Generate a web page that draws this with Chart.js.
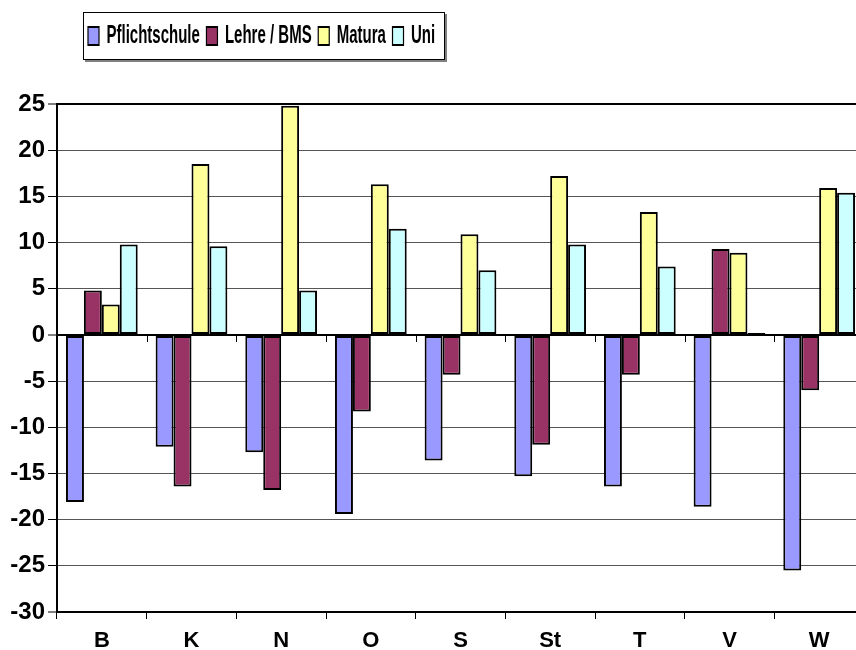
<!DOCTYPE html>
<html>
<head>
<meta charset="utf-8">
<script src="https://cdn.jsdelivr.net/npm/chart.js@4"></script>
<style>
  html, body { margin: 0; padding: 0; background: #fff; overflow: hidden; }
</style>
</head>
<body>
<canvas id="chart1" width="864" height="650"></canvas>
<script>
// data
const categories = ["B", "K", "N", "O", "S", "St", "T", "V", "W"];
const pflichtschule = [-18.1, -12.1, -12.7, -19.4, -13.6, -15.3, -16.4, -18.6, -25.5];
const lehreBms = [4.8, -16.4, -16.8, -8.3, -4.3, -11.9, -4.3, 9.3, -6.0];
const matura = [3.3, 18.5, 24.8, 16.3, 10.9, 17.2, 13.3, 8.9, 15.9];
const uni = [9.8, 9.6, 4.8, 11.5, 7.0, 9.8, 7.4, 0.2, 15.4];
const seriesNames = ["Pflichtschule", "Lehre / BMS", "Matura", "Uni"];
const seriesColors = ["#9999ff", "#993366", "#ffff99", "#ccffff"];
const yTicks = [-30, -25, -20, -15, -10, -5, 0, 5, 10, 15, 20, 25];

const boldFont = size => ({ family: "'Liberation Sans', Arial, sans-serif", size: size, weight: "bold" });

const LEG_PAD = 11;
const LEG_SQUEEZE = 0.6;

// legend: framed box, squeezed text like the original
const legendFrame = {
    id: "legendFrame",
    afterInit(chart) {
        const lg = chart.legend;
        const fit = lg.fit.bind(lg);
        lg.fit = function () { fit(); this.height = 104; };
        const draw = lg.draw.bind(lg);
        lg.draw = function () {
            const c = chart.ctx;
            c.save();
            c.translate(88, 27 - (this.top + LEG_PAD + 3.5));
            c.scale(LEG_SQUEEZE, 1);
            c.translate(-(this.left + LEG_PAD), 0);
            draw();
            c.restore();
        };
    },
    beforeDraw(chart) {
        const c = chart.ctx;
        c.save();
        c.fillStyle = "#808080";
        c.fillRect(85, 14, 362, 48);
        c.fillStyle = "#fff";
        c.fillRect(83, 12, 362, 48);
        c.strokeStyle = "#000";
        c.lineWidth = 1;
        c.strokeRect(83.5, 12.5, 361, 47);
        c.restore();
    },
    beforeDatasetsDraw(chart) {
        // little tick marks under the zero line
        const c = chart.ctx;
        const x = chart.scales.x, y = chart.scales.y;
        const y0 = Math.round(y.getPixelForValue(0));
        c.save();
        c.strokeStyle = "#000";
        c.lineWidth = 1;
        for (let i = 1; i < categories.length; i++) {
            const px = Math.round((x.getPixelForValue(i - 1) + x.getPixelForValue(i)) / 2) + 0.5;
            c.beginPath();
            c.moveTo(px, y0);
            c.lineTo(px, y0 + 7);
            c.stroke();
        }
        c.restore();
    }
};

const allSeries = [pflichtschule, lehreBms, matura, uni];

new Chart(document.getElementById("chart1"), {
    type: "bar",
    data: {
        labels: categories,
        datasets: allSeries.map((vals, i) => ({
            label: seriesNames[i],
            data: vals,
            backgroundColor: seriesColors[i],
            borderColor: "#000",
            borderWidth: 2,
            borderSkipped: false,
            categoryPercentage: 0.8,
            barPercentage: 1.0
        }))
    },
    options: {
        responsive: false,
        animation: false,
        layout: { padding: 0 },
        plugins: {
            tooltip: { enabled: false },
            legend: {
                position: "top",
                align: "start",
                labels: {
                    font: boldFont(25),
                    color: "#000",
                    boxWidth: 11 / LEG_SQUEEZE,
                    boxHeight: 18,
                    padding: LEG_PAD
                }
            }
        },
        scales: {
            x: {
                ticks: { font: boldFont(22), color: "#000", padding: 9 },
                grid: { drawOnChartArea: false, tickLength: 7, tickColor: "#000", tickWidth: 1, offset: true },
                border: { color: "#000", width: 2 },
                afterFit(s) { s.height = 38; }
            },
            y: {
                min: -30,
                max: 25,
                afterBuildTicks(s) { s.ticks = yTicks.map(v => ({ value: v })); },
                ticks: { font: boldFont(24), color: "#000", padding: 3 },
                grid: {
                    color: ctx => (ctx.tick && (ctx.tick.value === 0 || ctx.tick.value === 25 || ctx.tick.value === -30)) ? "#000" : "#555",
                    lineWidth: ctx => (ctx.tick && (ctx.tick.value === 0 || ctx.tick.value === 25 || ctx.tick.value === -30)) ? 2 : 1,
                    tickLength: 9,
                    tickColor: "#000",
                    tickWidth: 1
                },
                border: { color: "#000", width: 2 },
                afterFit(s) { s.width = 57; }
            }
        }
    },
    plugins: [legendFrame]
});
</script>
</body>
</html>
